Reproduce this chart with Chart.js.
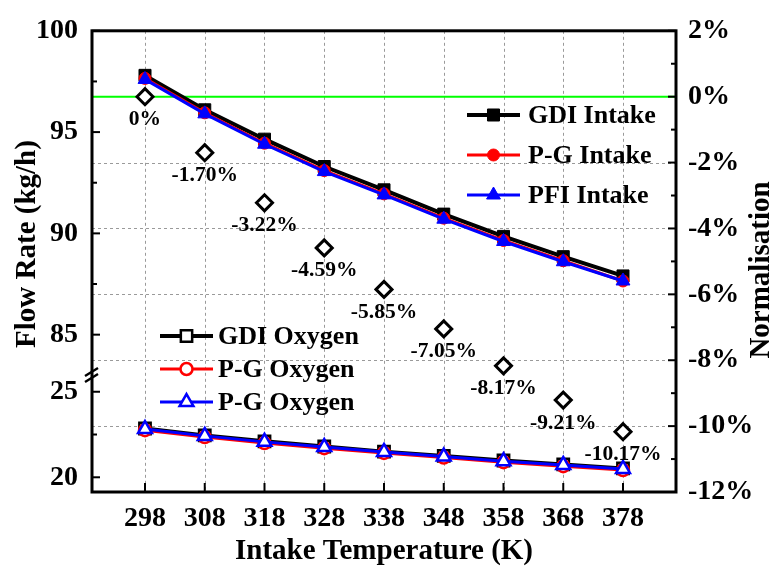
<!DOCTYPE html>
<html>
<head>
<meta charset="utf-8">
<script src="https://cdn.jsdelivr.net/npm/chart.js@4/dist/chart.umd.min.js"></script>
<style>
html,body{margin:0;padding:0;background:#fff;}
#wrap{width:777px;height:573px;}
</style>
</head>
<body>
<div id="wrap"><canvas id="c" width="777" height="573"></canvas></div>
<script>
// ---- data ----
const xCats = [298, 308, 318, 328, 338, 348, 358, 368, 378];
const gdiIntake = [97.8, 96.1, 94.65, 93.3, 92.15, 90.95, 89.85, 88.85, 87.9];
const pgIntake  = [97.65, 95.95, 94.45, 93.1, 91.95, 90.75, 89.65, 88.65, 87.65];
const pfiIntake = [97.6, 95.9, 94.4, 93.05, 91.9, 90.7, 89.6, 88.6, 87.65];
const gdiOxygen = [22.85, 22.45, 22.1, 21.8, 21.5, 21.25, 20.98, 20.75, 20.52];
const pgOxygen  = [22.75, 22.35, 22.0, 21.7, 21.42, 21.15, 20.88, 20.65, 20.42];
const pgOxygen2 = [22.82, 22.42, 22.07, 21.77, 21.48, 21.21, 20.94, 20.72, 20.49];
const normValues = [0, -1.70, -3.22, -4.59, -5.85, -7.05, -8.17, -9.21, -10.17];
const normLabels = ['0%', '-1.70%', '-3.22%', '-4.59%', '-5.85%', '-7.05%', '-8.17%', '-9.21%', '-10.17%'];
const upperTicks = [85, 90, 95, 100];
const upperMinor = [87.5, 92.5, 97.5];
const lowerTicks = [20, 25];
const lowerMinor = [22.5];
const rightTicks = [2, 0, -2, -4, -6, -8, -10, -12];
const rightMinor = [1, -1, -3, -5, -7, -9, -11];
const rightGrid = [-2, -4, -6, -8, -10];

const FONT = "'Liberation Serif','Times New Roman',serif";
const pts = arr => xCats.map((x, i) => ({x: x, y: arr[i]}));

const datasets = [
  {label: 'PFI Intake', data: pts(pfiIntake), yAxisID: 'yUp', borderColor: '#0000ff', backgroundColor: '#0000ff',
   borderWidth: 3, pointStyle: 'triangle', pointRadius: 8, pointBorderWidth: 1, order: 1},
  {label: 'P-G Intake', data: pts(pgIntake), yAxisID: 'yUp', borderColor: '#ff0000', backgroundColor: '#ff0000',
   borderWidth: 3, pointStyle: 'circle', pointRadius: 6, pointBorderWidth: 1, order: 2},
  {label: 'GDI Intake', data: pts(gdiIntake), yAxisID: 'yUp', borderColor: '#000000', backgroundColor: '#000000',
   borderWidth: 4, pointStyle: 'rect', pointRadius: 8.5, pointBorderWidth: 1, order: 3},
  {label: 'P-G Oxygen', data: pts(pgOxygen2), yAxisID: 'yLow', borderColor: '#0000ff', backgroundColor: '#ffffff',
   borderWidth: 3, pointStyle: 'triangle', pointRadius: 8, pointBorderWidth: 2.5, order: 4},
  {label: 'P-G Oxygen', data: pts(pgOxygen), yAxisID: 'yLow', borderColor: '#ff0000', backgroundColor: '#ffffff',
   borderWidth: 3, pointStyle: 'circle', pointRadius: 6, pointBorderWidth: 2.5, order: 5},
  {label: 'GDI Oxygen', data: pts(gdiOxygen), yAxisID: 'yLow', borderColor: '#000000', backgroundColor: '#ffffff',
   borderWidth: 4, pointStyle: 'rect', pointRadius: 8, pointBorderWidth: 2.5, order: 6},
  {label: 'Normalisation', data: pts(normValues), yAxisID: 'yR', showLine: false, borderColor: '#000000',
   backgroundColor: '#ffffff', pointStyle: 'rectRot', pointRadius: 8, pointBorderWidth: 3, order: 0}
];

const legendUp = [{ds: 2, y: 115}, {ds: 1, y: 155}, {ds: 0, y: 195}];
const legendLow = [{ds: 5, y: 336}, {ds: 4, y: 369}, {ds: 3, y: 402}];

function drawDatasetSymbol(ctx, chart, dsIndex, x1, x2, y) {
  const ds = chart.data.datasets[dsIndex];
  ctx.save();
  ctx.strokeStyle = ds.borderColor;
  ctx.lineWidth = ds.borderWidth;
  ctx.beginPath(); ctx.moveTo(x1, y); ctx.lineTo(x2, y); ctx.stroke();
  ctx.fillStyle = ds.backgroundColor;
  ctx.lineWidth = ds.pointBorderWidth;
  Chart.helpers.drawPoint(ctx, {pointStyle: ds.pointStyle, radius: ds.pointRadius, rotation: 0, borderWidth: ds.pointBorderWidth}, (x1 + x2) / 2, y);
  ctx.restore();
}

const decor = {
  id: 'decor',
  beforeDatasetsDraw(chart) {
    const ctx = chart.ctx, a = chart.chartArea, s = chart.scales;
    ctx.save();
    ctx.strokeStyle = '#9a9a9a';
    ctx.lineWidth = 1;
    ctx.setLineDash([3, 3]);
    xCats.forEach(v => {
      const x = Math.round(s.x.getPixelForValue(v)) + 0.5;
      ctx.beginPath(); ctx.moveTo(x, a.top); ctx.lineTo(x, a.bottom); ctx.stroke();
    });
    rightGrid.forEach(v => {
      const y = Math.round(s.yR.getPixelForValue(v)) + 0.5;
      ctx.beginPath(); ctx.moveTo(a.left, y); ctx.lineTo(a.right, y); ctx.stroke();
    });
    ctx.setLineDash([]);
    ctx.strokeStyle = '#00ff00';
    ctx.lineWidth = 2;
    const y0 = s.yR.getPixelForValue(0);
    ctx.beginPath(); ctx.moveTo(a.left, y0); ctx.lineTo(a.right, y0); ctx.stroke();
    ctx.restore();
  },
  afterDatasetsDraw(chart) {
    const ctx = chart.ctx, a = chart.chartArea, s = chart.scales;
    ctx.save();
    // frame
    ctx.strokeStyle = '#000';
    ctx.lineWidth = 3;
    ctx.strokeRect(a.left, a.top, a.right - a.left, a.bottom - a.top);
    // ticks
    ctx.lineWidth = 2;
    const tickL = (scale, vals, len) => vals.forEach(v => {
      const y = scale.getPixelForValue(v);
      ctx.beginPath(); ctx.moveTo(a.left, y); ctx.lineTo(a.left + len, y); ctx.stroke();
    });
    tickL(s.yUp, upperTicks, 8); tickL(s.yUp, upperMinor, 5);
    tickL(s.yLow, lowerTicks, 8); tickL(s.yLow, lowerMinor, 5);
    const tickR = (vals, len) => vals.forEach(v => {
      const y = s.yR.getPixelForValue(v);
      ctx.beginPath(); ctx.moveTo(a.right, y); ctx.lineTo(a.right - len, y); ctx.stroke();
    });
    tickR(rightTicks, 8); tickR(rightMinor, 5);
    xCats.forEach(v => {
      const x = s.x.getPixelForValue(v);
      ctx.beginPath(); ctx.moveTo(x, a.bottom); ctx.lineTo(x, a.bottom - 9); ctx.stroke();
    });
    // axis break marks
    const yb = s.yUp.bottom;
    ctx.lineWidth = 2.5;
    [-3, 3].forEach(d => {
      ctx.beginPath();
      ctx.moveTo(a.left - 7, yb + d + 4);
      ctx.lineTo(a.left + 6, yb + d - 4);
      ctx.stroke();
    });
    // annotations
    ctx.fillStyle = '#000';
    ctx.font = 'bold 21.5px ' + FONT;
    ctx.textAlign = 'center';
    ctx.textBaseline = 'middle';
    xCats.forEach((v, i) => {
      ctx.fillText(normLabels[i], s.x.getPixelForValue(v), s.yR.getPixelForValue(normValues[i]) + 23);
    });
    // legends
    ctx.font = 'bold 26px ' + FONT;
    ctx.textAlign = 'left';
    legendUp.forEach(it => {
      drawDatasetSymbol(ctx, chart, it.ds, 467, 520, it.y);
      ctx.fillStyle = '#000';
      ctx.fillText(chart.data.datasets[it.ds].label, 528, it.y + 1);
    });
    legendLow.forEach(it => {
      drawDatasetSymbol(ctx, chart, it.ds, 160, 213, it.y);
      ctx.fillStyle = '#000';
      ctx.fillText(chart.data.datasets[it.ds].label, 218, it.y + 1);
    });
    // axis titles
    ctx.font = 'bold 29px ' + FONT;
    ctx.textAlign = 'center';
    ctx.save();
    ctx.translate(28, 244); ctx.rotate(-Math.PI / 2);
    ctx.fillText('Flow Rate (kg/h)', 0, 0);
    ctx.restore();
    ctx.save();
    ctx.translate(762, 270); ctx.rotate(-Math.PI / 2);
    ctx.fillText('Normalisation', 0, 0);
    ctx.restore();
    ctx.fillText('Intake Temperature (K)', (a.left + a.right) / 2, 552);
    ctx.restore();
  }
};

const tickFont = {family: FONT, size: 28, weight: 'bold'};
const commonY = {
  type: 'linear',
  grid: {display: false, drawTicks: false},
  border: {display: false},
  ticks: {font: tickFont, color: '#000', padding: 14}
};

new Chart(document.getElementById('c'), {
  type: 'line',
  data: {datasets: datasets},
  options: {
    responsive: false,
    animation: false,
    layout: {padding: {top: 23, left: 0, right: 0, bottom: 0}},
    plugins: {legend: {display: false}, tooltip: {enabled: false}},
    scales: {
      x: {
        type: 'linear', position: 'bottom', min: 289.13, max: 386.87,
        grid: {display: false, drawTicks: false}, border: {display: false},
        ticks: {font: tickFont, color: '#000', padding: 10, callback: v => String(v)},
        afterBuildTicks: sc => { sc.ticks = xCats.map(v => ({value: v})); },
        afterFit: sc => { sc.height = 81; }
      },
      yLow: Object.assign({}, commonY, {
        position: 'left', stack: 'left', stackWeight: 119, min: 19.14, max: 25.98,
        afterBuildTicks: sc => { sc.ticks = lowerTicks.map(v => ({value: v})); },
        afterFit: sc => { sc.width = 92; }
      }),
      yUp: Object.assign({}, commonY, {
        position: 'left', stack: 'left', stackWeight: 350, min: 83.01, max: 100,
        afterBuildTicks: sc => { sc.ticks = upperTicks.map(v => ({value: v})); },
        afterFit: sc => { sc.width = 92; }
      }),
      yR: Object.assign({}, commonY, {
        position: 'right', min: -12, max: 2,
        ticks: {font: tickFont, color: '#000', padding: 12, callback: v => v + '%'},
        afterBuildTicks: sc => { sc.ticks = rightTicks.map(v => ({value: v})); },
        afterFit: sc => { sc.width = 101; }
      })
    }
  },
  plugins: [decor]
});
</script>
</body>
</html>
